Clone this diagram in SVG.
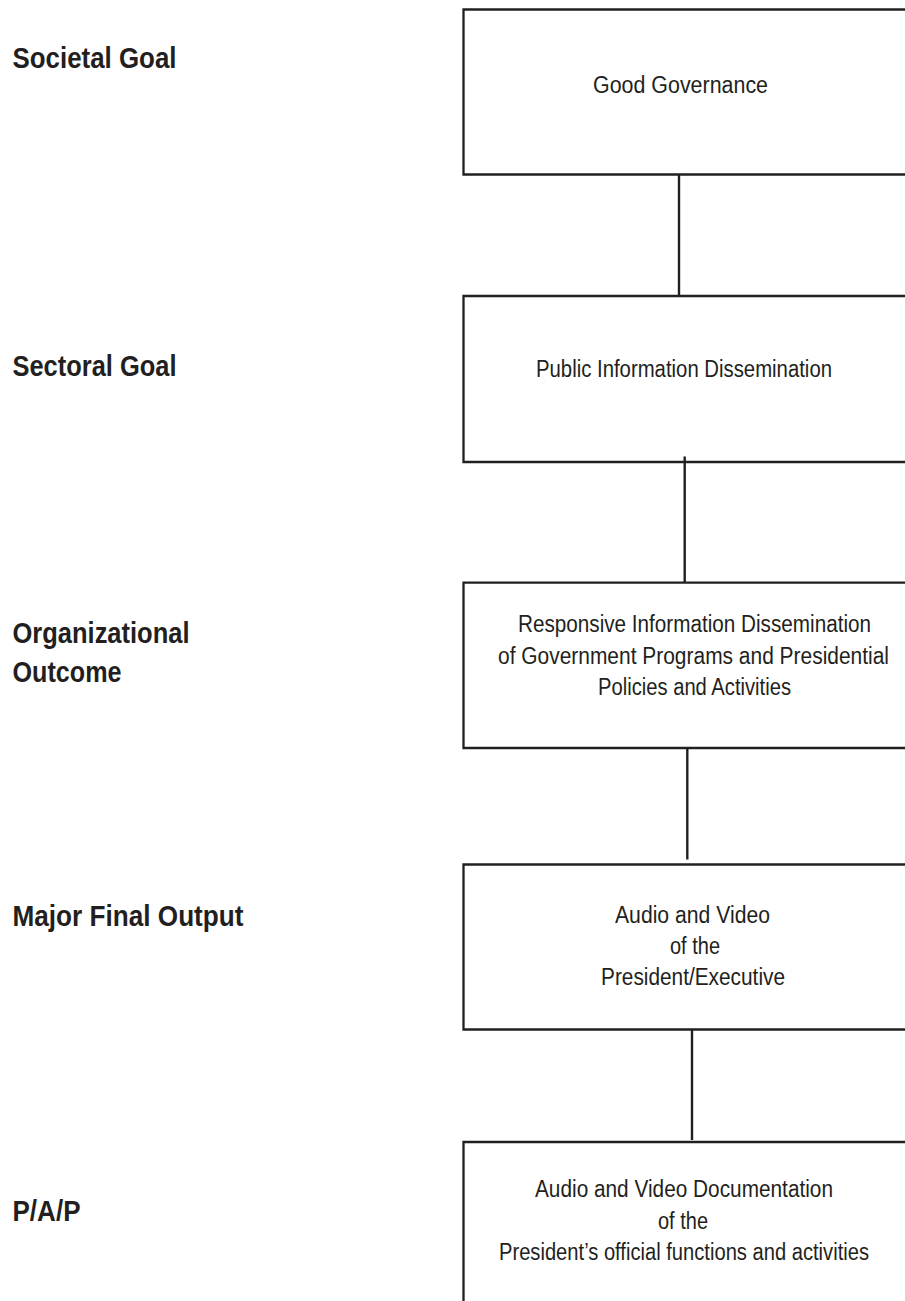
<svg xmlns="http://www.w3.org/2000/svg" width="905" height="1301" viewBox="0 0 905 1301">
<style>
.box{fill:#ffffff;stroke:#231f20;stroke-width:2.3}
.con{stroke:#231f20;stroke-width:2.4;fill:none}
.t{font-family:"Liberation Sans",Arial,sans-serif;font-size:23px;fill:#231f20;text-anchor:middle}
.lab{font-family:"Liberation Sans",Arial,sans-serif;font-size:29px;font-weight:bold;fill:#231f20}
</style>
<rect width="905" height="1301" fill="#ffffff"/>
<g id="labels">
<text class="lab" x="12.5" y="68" textLength="164" lengthAdjust="spacingAndGlyphs">Societal Goal</text>
<text class="lab" x="12.5" y="376" textLength="164" lengthAdjust="spacingAndGlyphs">Sectoral Goal</text>
<text class="lab" x="12.5" y="643" textLength="177" lengthAdjust="spacingAndGlyphs">Organizational</text>
<text class="lab" x="12.5" y="681.5" textLength="109" lengthAdjust="spacingAndGlyphs">Outcome</text>
<text class="lab" x="12.5" y="926" textLength="231" lengthAdjust="spacingAndGlyphs">Major Final Output</text>
<text class="lab" x="12.5" y="1221" textLength="68" lengthAdjust="spacingAndGlyphs">P/A/P</text>
</g>
<g id="connectors">
<line class="con" x1="679" y1="175" x2="679" y2="295"/>
<line class="con" x1="684.7" y1="456.5" x2="684.7" y2="582"/>
<line class="con" x1="687.3" y1="748" x2="687.3" y2="859.5"/>
<line class="con" x1="692" y1="1030" x2="692" y2="1140"/>
</g>
<g id="node1">
<path class="box" d="M905,9.5 H463.5 V174.5 H905"/>
<text class="t" x="680.5" y="93" textLength="175" lengthAdjust="spacingAndGlyphs">Good Governance</text>
</g>
<g id="node2">
<path class="box" d="M905,296 H463.5 V462 H905"/>
<line class="con" x1="684.7" y1="456.5" x2="684.7" y2="462"/>
<text class="t" x="684" y="376.5" textLength="296" lengthAdjust="spacingAndGlyphs">Public Information Dissemination</text>
</g>
<g id="node3">
<path class="box" d="M905,582.7 H463.5 V748 H905"/>
<text class="t" x="694.5" y="632" textLength="353" lengthAdjust="spacingAndGlyphs">Responsive Information Dissemination</text>
<text class="t" x="693.5" y="663.5" textLength="391" lengthAdjust="spacingAndGlyphs">of Government Programs and Presidential</text>
<text class="t" x="694.5" y="695" textLength="193" lengthAdjust="spacingAndGlyphs">Policies and Activities</text>
</g>
<g id="node4">
<path class="box" d="M905,864.5 H463.5 V1029.5 H905"/>
<text class="t" x="692.5" y="923" textLength="155" lengthAdjust="spacingAndGlyphs">Audio and Video</text>
<text class="t" x="695" y="953.5" textLength="50" lengthAdjust="spacingAndGlyphs">of the</text>
<text class="t" x="693" y="985" textLength="184" lengthAdjust="spacingAndGlyphs">President/Executive</text>
</g>
<g id="node5">
<path class="box" d="M905,1142 H463.5 V1301"/>
<text class="t" x="684" y="1197" textLength="298" lengthAdjust="spacingAndGlyphs">Audio and Video Documentation</text>
<text class="t" x="683" y="1228.5" textLength="50" lengthAdjust="spacingAndGlyphs">of the</text>
<text class="t" x="684" y="1260" textLength="370" lengthAdjust="spacingAndGlyphs">President’s official functions and activities</text>
</g>
</svg>
